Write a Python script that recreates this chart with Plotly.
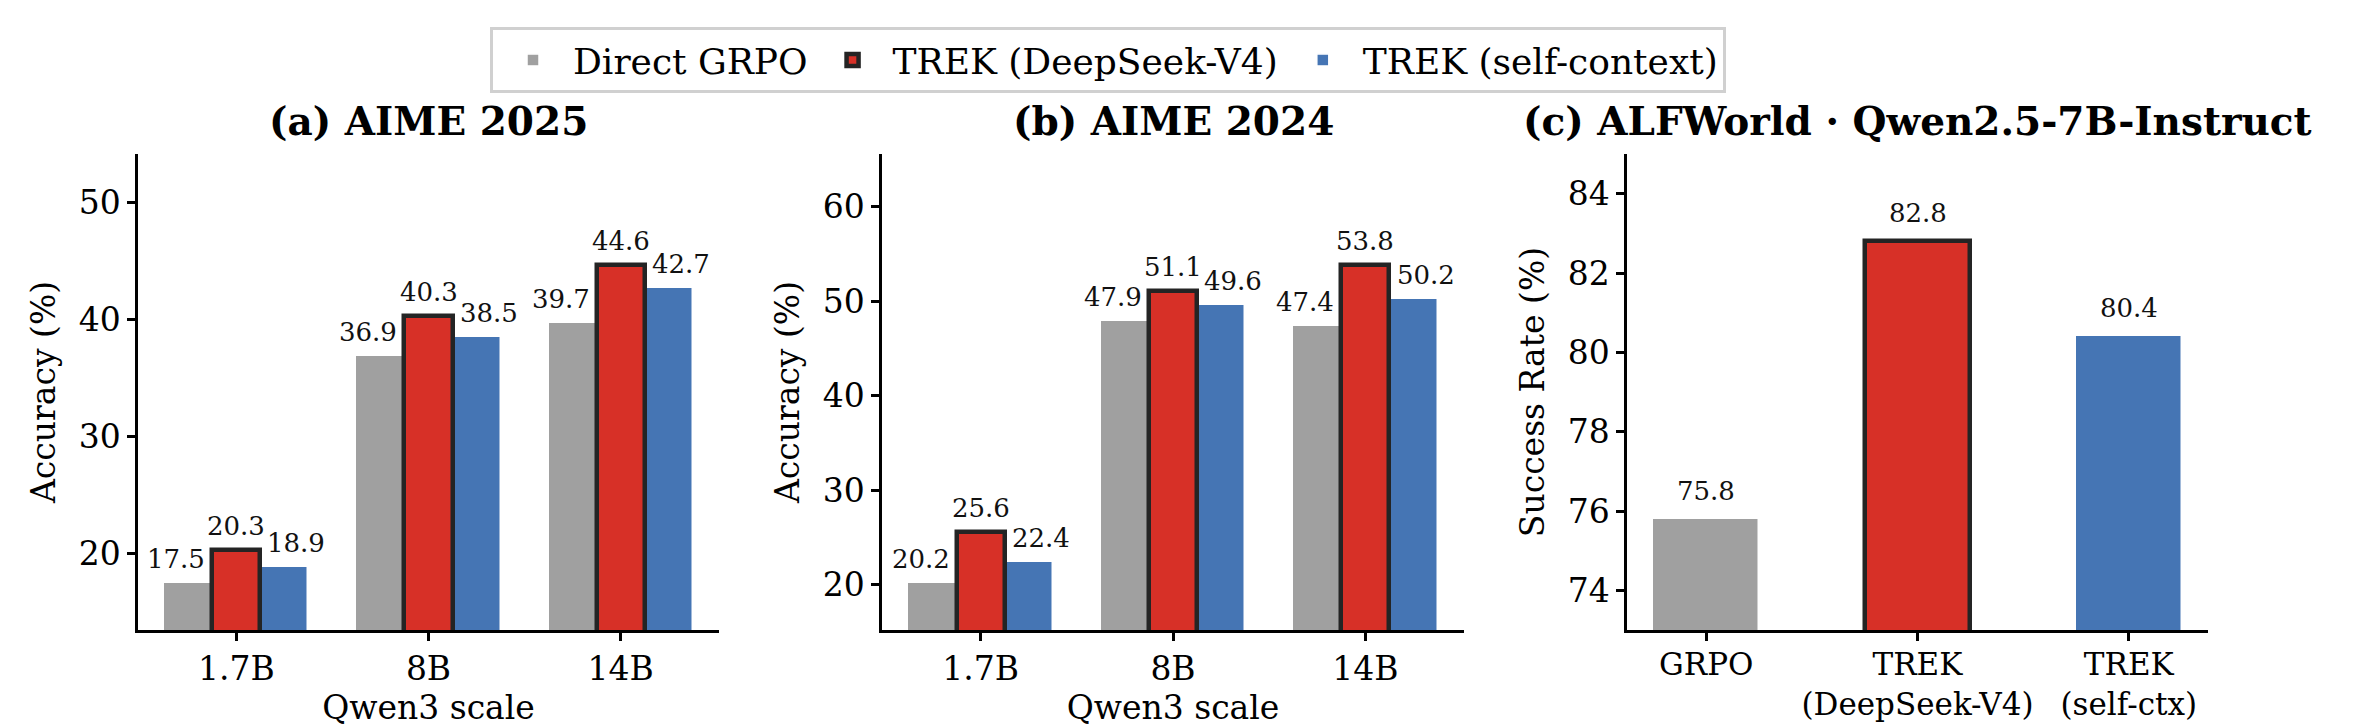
import plotly.graph_objects as go

# ---------------- data ----------------
scales = ["1.7B", "8B", "14B"]
aime25_grpo = [17.5, 36.9, 39.7]
aime25_trek_ds = [20.3, 40.3, 44.6]
aime25_trek_self = [18.9, 38.5, 42.7]
aime24_grpo = [20.2, 47.9, 47.4]
aime24_trek_ds = [25.6, 51.1, 53.8]
aime24_trek_self = [22.4, 49.6, 50.2]
alf_methods = ["GRPO", "TREK<br>(DeepSeek-V4)", "TREK<br>(self-ctx)"]
alf_values = [75.8, 82.8, 80.4]
series_names = ["Direct GRPO", "TREK (DeepSeek-V4)", "TREK (self-context)"]

# ---------------- style ----------------
W, H = 2369, 728
GRAY, RED, BLUE = "#a0a0a0", "#d73027", "#4575b4"
EDGE = "#242424"
FONT = "DejaVu Serif"
BW = 0.25

def fx(px):
    return px / W

def fy(py):
    return (H - py) / H

dom_x = [(fx(138), fx(719)), (fx(882), fx(1464)), (fx(1627), fx(2208))]
dom_y = (fy(630), fy(154))

fig = go.Figure()
annotations = []

def add_group_panel(idx, grpo, ds, selfc, showlegend):
    xa = "x" if idx == 1 else f"x{idx}"
    ya = "y" if idx == 1 else f"y{idx}"
    xs = list(range(len(scales)))
    specs = [
        (grpo, GRAY, -1, "white", 1.5, 1, 0),
        (selfc, BLUE, 1, "white", 1.5, 3, 2),
        (ds, RED, 0, EDGE, 4.5, 2, 1),
    ]
    for vals, col, k, lc, lw, rank, ni in specs:
        fig.add_trace(go.Bar(
            x=xs, y=vals, width=BW, offset=k * BW - BW / 2,
            marker=dict(color=col, line=dict(color=lc, width=lw)),
            name=series_names[ni], legendrank=rank,
            showlegend=showlegend, xaxis=xa, yaxis=ya,
            hoverinfo="skip",
        ))
        for i, v in enumerate(vals):
            annotations.append(dict(
                x=i + k * BW, y=v, xref=xa, yref=ya, text=f"{v:.1f}",
                showarrow=False, yanchor="bottom", xanchor="center",
                yshift=7, xshift=12 * k,
                font=dict(family=FONT, size=26, color="#111111"),
            ))

add_group_panel(1, aime25_grpo, aime25_trek_ds, aime25_trek_self, True)
add_group_panel(2, aime24_grpo, aime24_trek_ds, aime24_trek_self, False)

# panel c
fig.add_trace(go.Bar(
    x=list(range(len(alf_methods))), y=alf_values, width=0.5,
    marker=dict(color=[GRAY, RED, BLUE],
                line=dict(color=["white", EDGE, "white"], width=[1.5, 4.5, 1.5])),
    showlegend=False, xaxis="x3", yaxis="y3", hoverinfo="skip",
))
for i, v in enumerate(alf_values):
    annotations.append(dict(
        x=i, y=v, xref="x3", yref="y3", text=f"{v:.1f}",
        showarrow=False, yanchor="bottom", xanchor="center", yshift=11,
        font=dict(family=FONT, size=26, color="#111111"),
    ))

titles = ["<b>(a) AIME 2025</b>", "<b>(b) AIME 2024</b>",
          "<b>(c) ALFWorld · Qwen2.5-7B-Instruct</b>"]
for d, t in zip(dom_x, titles):
    annotations.append(dict(
        x=(d[0] + d[1]) / 2, y=fy(121), xref="paper", yref="paper", text=t,
        showarrow=False, xanchor="center", yanchor="middle",
        font=dict(family=FONT, size=39, color="black"),
    ))

axis_common = dict(
    showline=True, linecolor="black", linewidth=2.5, mirror=False,
    ticks="outside", ticklen=8, tickwidth=2.5, tickcolor="black",
    showgrid=False, zeroline=False, automargin=False,
    tickfont=dict(family=FONT, size=33, color="black"),
)
xtitle_font = dict(family=FONT, size=33, color="black")

layout = dict(
    width=W, height=H, margin=dict(l=0, r=0, t=0, b=0),
    paper_bgcolor="white", plot_bgcolor="white",
    barmode="overlay", bargap=0,
    font=dict(family=FONT, color="black"),
    showlegend=True,
    legend=dict(
        orientation="h", x=fx(1108), y=fy(60), xanchor="center", yanchor="middle",
        font=dict(family=FONT, size=36, color="black"),
        bgcolor="white", bordercolor="#d0d0d0", borderwidth=3,
        traceorder="normal", itemwidth=70,
    ),
    annotations=annotations,
)

x_ranges = [(-0.5125, 2.5125), (-0.5125, 2.5125), (-0.375, 2.375)]
y_ranges = [(13.5, 54.1), (15.2, 65.6), (73.0, 85.0)]
y_ticks = [[20, 30, 40, 50], [20, 30, 40, 50, 60], [74, 76, 78, 80, 82, 84]]
x_ticktexts = [scales, scales, alf_methods]
x_titles = ["Qwen3 scale", "Qwen3 scale", None]
y_titles = ["Accuracy (%)", "Accuracy (%)", "Success Rate (%)"]

for n in range(3):
    sx = "xaxis" if n == 0 else f"xaxis{n+1}"
    sy = "yaxis" if n == 0 else f"yaxis{n+1}"
    anchor_y = "y" if n == 0 else f"y{n+1}"
    anchor_x = "x" if n == 0 else f"x{n+1}"
    xa = dict(axis_common, domain=list(dom_x[n]), anchor=anchor_y,
              range=list(x_ranges[n]), tickmode="array",
              tickvals=list(range(len(x_ticktexts[n]))), ticktext=x_ticktexts[n])
    if n == 2:
        xa["tickfont"] = dict(family=FONT, size=31, color="black")
        xa["ticklabelstandoff"] = -3
    if x_titles[n]:
        xa["title"] = dict(text=x_titles[n], font=xtitle_font, standoff=6)
    ya = dict(axis_common, domain=list(dom_y), anchor=anchor_x,
              range=list(y_ranges[n]), tickmode="array", tickvals=y_ticks[n],
              title=dict(text=y_titles[n], font=xtitle_font, standoff=14))
    layout[sx] = xa
    layout[sy] = ya

fig.update_layout(**layout)
fig.write_html("out.html")
